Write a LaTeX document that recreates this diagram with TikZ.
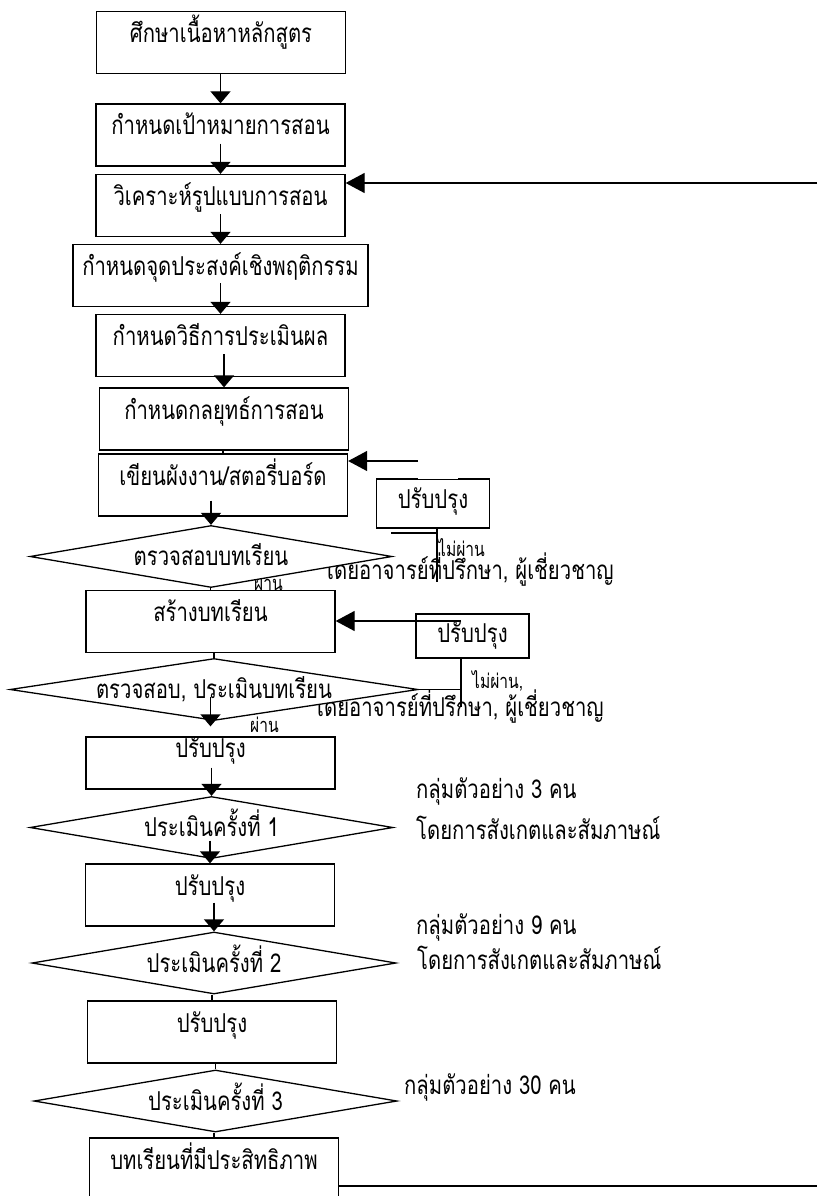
\documentclass[tikz,border=0pt]{standalone}
\usepackage{fontspec}
\setmainfont{Loma}[Script=Thai, FakeStretch=0.78]
\usetikzlibrary{shapes.geometric, arrows.meta, calc}

\tikzset{
    stepbox/.style={draw, fill=white, line width=1.3pt, minimum width=249pt,
        inner sep=0pt, text height=31pt, text depth=31pt},
    checkbox/.style={diamond, draw, fill=white, line width=1.3pt, aspect=6.5,
        inner sep=0pt, text height=18pt, text depth=0pt, minimum height=62pt},
    fixbox/.style={draw, fill=white, line width=1.3pt, minimum width=113pt,
        inner sep=0pt, text height=29pt, text depth=17pt},
    note/.style={anchor=base west, inner sep=0pt},
    smallnote/.style={note, font=\fontsize{20}{24}\selectfont},
    flow/.style={line width=1.3pt, -{Triangle[width=20pt, length=12pt]}},
    back/.style={line width=1.3pt, -{Triangle[width=20pt, length=19pt]}},
    link/.style={line width=1.3pt}
}

\begin{document}
\begin{tikzpicture}[x=1pt, y=-1pt, font=\fontsize{26}{30}\selectfont]
    \path[use as bounding box, clip] (0, 0) rectangle (817, 1196);

    \path
        \foreach \n/\p/\t in {
            pass1/{254, 590}/ผ่าน,
            pass2/{250, 732}/ผ่าน,
            fail1/{438, 556}/ไม่ผ่าน,
            fail2/{472, 688}/{ไม่ผ่าน,}
        } {
            (\p) node[smallnote] (\n) {\t}
        };
    \path
        \foreach \n/\p/\t in {
            expert1/{323, 579}/{โดยอาจารย์ที่ปรึกษา, ผู้เชี่ยวชาญ},
            expert2/{313, 716}/{โดยอาจารย์ที่ปรึกษา, ผู้เชี่ยวชาญ},
            group1/{416, 798}/กลุ่มตัวอย่าง 3 คน,
            watch1/{416, 839}/โดยการสังเกตและสัมภาษณ์,
            group2/{416, 934}/กลุ่มตัวอย่าง 9 คน,
            watch2/{417, 969}/โดยการสังเกตและสัมภาษณ์,
            group3/{404, 1094}/กลุ่มตัวอย่าง 30 คน
        } {
            (\p) node[note] (\n) {\t}
        };

    \path
        \foreach \n/\p/\t in {
            study/{221, 42.5}/ศึกษาเนื้อหาหลักสูตร,
            goal/{220.5, 135}/กำหนดเป้าหมายการสอน,
            analyse/{220.5, 205.5}/วิเคราะห์รูปแบบการสอน,
            assess/{220.5, 345.5}/กำหนดวิธีการประเมินผล,
            strategy/{224, 419}/กำหนดกลยุทธ์การสอน,
            story/{223, 485}/{เขียนผังงาน/สตอรี่บอร์ด},
            build/{210.5, 621.5}/สร้างบทเรียน,
            fix2/{210, 895}/ปรับปรุง,
            fix3/{212, 1032}/ปรับปรุง,
            lesson/{214, 1169}/บทเรียนที่มีประสิทธิภาพ
        } {
            (\p) node[stepbox] (\n) {\t}
        };
    \node[stepbox, minimum width=295pt] (objective) at (220.5, 275.5) {กำหนดจุดประสงค์เชิงพฤติกรรม};
    \node[stepbox, text height=20pt, text depth=32pt] (fix1) at (210.5, 763) {ปรับปรุง};

    \path
        \foreach \n/\p/\w/\t in {
            check/{211, 556.5}/362/ตรวจสอบบทเรียน,
            review/{214, 689.5}/408/{ตรวจสอบ, ประเมินบทเรียน},
            eval1/{211.5, 827.5}/363/ประเมินครั้งที่ 1,
            eval2/{214, 963}/364/ประเมินครั้งที่ 2,
            eval3/{215.5, 1101}/363/ประเมินครั้งที่ 3
        } {
            (\p) node[checkbox, minimum width=\w pt] (\n) {\t}
        };

    \node[fixbox, text height=29.5pt, text depth=19.5pt] (redo1) at (433, 503.5) {ปรับปรุง};
    \node[fixbox, text height=28.5pt, text depth=15.5pt] (redo2) at (472.5, 636) {ปรับปรุง};
    \draw[white, line width=2pt] ([xshift=42pt]redo1.north west) -- ([xshift=82pt]redo1.north west);

    \coordinate (top) at (817, 183);
    \coordinate (side1) at (418, 461);
    \coordinate (side2) at (461, 621);
    \coordinate (tail1) at (437, 582);
    \coordinate (stub1) at (391, 533);
    \coordinate (tail2) at (461, 707);
    \coordinate (bottom) at (817, 1186);

    \foreach \a/\b/\s in {study/goal/0, goal/analyse/23, analyse/objective/23,
        objective/assess/24, assess/strategy/23, story/check/16,
        fix1/eval1/22, fix2/eval2/24} {
        \draw[flow] ($(\a.south -| \b.north)+(0, -\s)$) -- (\b.north);
    }
    \draw[flow] ($(review.center -| fix1.north)+(0, 7)$) -- ([yshift=10pt]fix1.north);
    \draw[flow] ($(eval1.center -| fix2.north)+(0, 13)$) -- (fix2.north);
    \foreach \a/\b in {strategy/story, check/build, build/review,
        eval2/fix3, fix3/eval3, eval3/lesson} {
        \draw[link] (\a.south -| \b.north) -- (\b.north);
    }

    \draw[back] (top) -- (top -| analyse.east);
    \draw[back] (side1) -- (side1 -| story.east);
    \draw[back] (side2) -- (side2 -| build.east);
    \draw[link] (redo1.south -| tail1) -- (tail1);
    \draw[link] (stub1) -- (stub1 -| tail1);
    \draw[link] (redo2.south -| tail2) -- (tail2);
    \draw[link] (review.east) -- (review.east -| tail2);
    \draw[link] (bottom -| lesson.east) -- (bottom);
\end{tikzpicture}
\end{document}
